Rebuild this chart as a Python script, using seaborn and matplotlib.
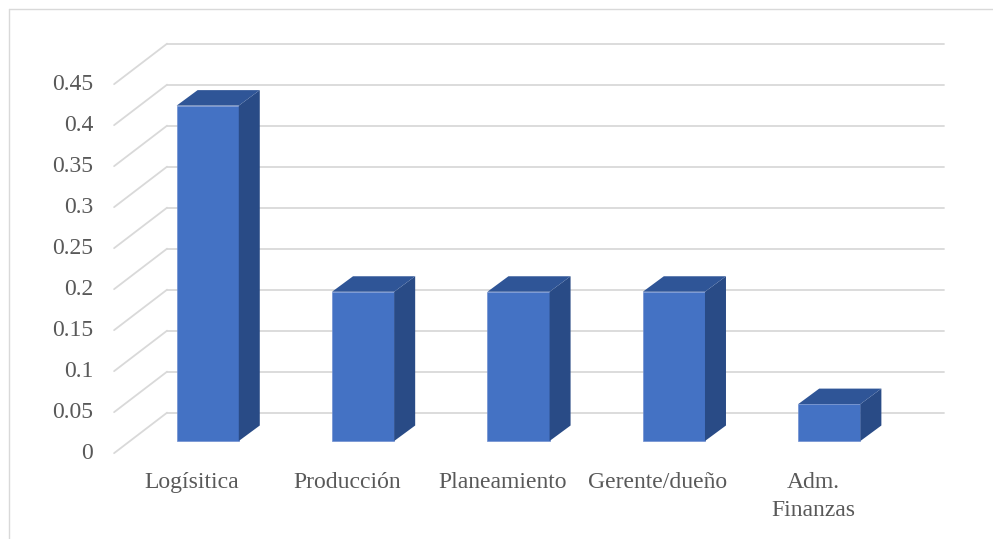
import matplotlib
matplotlib.use("Agg")
import matplotlib.pyplot as plt
import matplotlib.transforms as mtransforms
from matplotlib.patches import Polygon
from matplotlib.lines import Line2D
import seaborn as sns
import pandas as pd
import numpy as np

categories = ["Logísitica", "Producción", "Planeamiento", "Gerente/dueño", "Adm.\nFinanzas"]
values = [0.409, 0.182, 0.182, 0.182, 0.045]
yticks = [0, 0.05, 0.1, 0.15, 0.2, 0.25, 0.3, 0.35, 0.4, 0.45]
ytick_labels = ["0", "0.05", "0.1", "0.15", "0.2", "0.25", "0.3", "0.35", "0.4", "0.45"]

sns.set_style("white")
plt.rcParams['font.family'] = ['Liberation Serif', 'DejaVu Serif']

W, H = 993, 539
fig = plt.figure(figsize=(W / 100, H / 100), dpi=100)

# axes = plane of the bar front faces
left_px, right_px, y0_px, ytop_px = 130, 907, 441, 72
ax = fig.add_axes([left_px / W, (H - y0_px) / H, (right_px - left_px) / W, (y0_px - ytop_px) / H])
ax.set_axis_off()

df = pd.DataFrame({"cat": categories, "val": values})
sns.barplot(data=df, x="cat", y="val", color="#4472C4", saturation=1, width=0.4, ax=ax, zorder=3)
ax.set_xlim(-0.5, len(categories) - 0.5)
ax.set_ylim(0, 0.45)

# depth geometry (display pixels)
DX, DY = 53.0, 40.5     # full floor depth
f = 0.3                  # bar plane depth from front
front = (-DX * f, -DY * f)
back = (DX * (1 - f), DY * (1 - f))

def shifted(dx, dy):
    return ax.transData + mtransforms.Affine2D().translate(dx, dy)

grid_c = "#D9D9D9"
xl = -0.5
xr = len(categories) - 0.5
for yv in yticks:
    # back wall line
    ax.add_line(Line2D([xl, xr], [yv, yv], transform=shifted(*back), color=grid_c, lw=1.3, zorder=1, clip_on=False))
    # left wall diagonal
    p1 = ax.transData.transform((xl, yv)) + np.array(front)
    p2 = ax.transData.transform((xl, yv)) + np.array(back)
    fig.add_artist(Line2D([p1[0], p2[0]], [p1[1], p2[1]], transform=mtransforms.IdentityTransform(), color=grid_c, lw=1.3, zorder=1))

# y tick labels on the front edge
for yv, lab in zip(yticks, ytick_labels):
    ax.text(xl, yv, lab, transform=shifted(front[0] - 21, front[1]), ha="right", va="center",
            fontsize=17, color="#595959", clip_on=False)

# x category labels on front edge (one text per line)
for i, lab in enumerate(categories):
    for k, line in enumerate(lab.split("\n")):
        ax.text(i, 0, line, transform=shifted(front[0], front[1] - 35 - 28 * k), ha="center", va="baseline",
                fontsize=17, color="#595959", clip_on=False)

# 3D sides and tops of bars, built from the seaborn patches
bdx, bdy = 21.0, 15.5
top_c = "#2F5597"
side_c = "#294B86"
for p in ax.patches:
    x0 = p.get_x()
    w = p.get_width()
    h = p.get_height()
    bl = ax.transData.transform((x0, 0))
    br = ax.transData.transform((x0 + w, 0))
    tl = ax.transData.transform((x0, h))
    tr = ax.transData.transform((x0 + w, h))
    off = np.array([bdx, bdy])
    side = Polygon([br, tr, tr + off, br + off], closed=True, facecolor=side_c, edgecolor="none",
                   transform=mtransforms.IdentityTransform(), zorder=2.5)
    top = Polygon([tl, tr, tr + off, tl + off], closed=True, facecolor=top_c, edgecolor="none",
                  transform=mtransforms.IdentityTransform(), zorder=2.5)
    fig.add_artist(side)
    fig.add_artist(top)
    p.set_clip_on(False)
    p.set_edgecolor("#6F8FD0")
    p.set_linewidth(0.5)

# chart border (top and left visible)
fig.add_artist(Line2D([8.5, W + 5], [H - 8.5, H - 8.5], transform=mtransforms.IdentityTransform(), color="#D9D9D9", lw=1.0))
fig.add_artist(Line2D([8.5, 8.5], [H - 8.5, -5], transform=mtransforms.IdentityTransform(), color="#D9D9D9", lw=1.0))

fig.savefig("out.png", dpi=100, facecolor="white")
